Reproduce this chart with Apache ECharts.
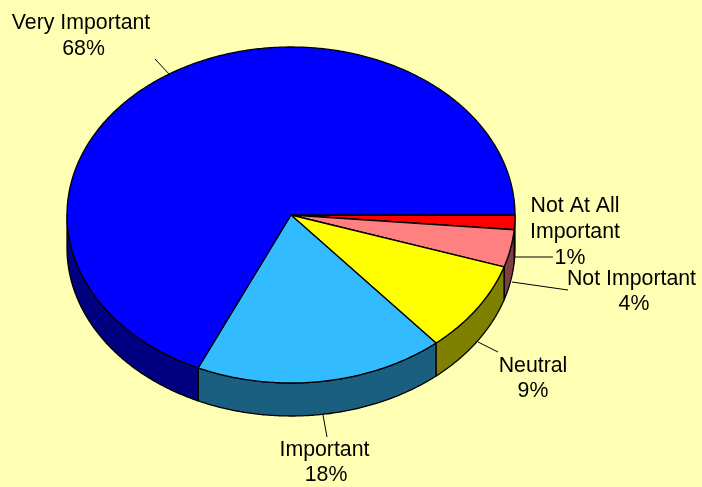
<!DOCTYPE html>
<html>
<head>
<meta charset="utf-8">
<style>html,body{margin:0;padding:0;background:#FFFFB3}#c{width:702px;height:487px}</style>
<script src="https://cdn.jsdelivr.net/npm/echarts@6/dist/echarts.min.js"></script>
</head>
<body>
<div id="c"></div>
<script>
// Clockwise from 3 o'clock, as drawn.
var categories = ['Not At All\nImportant', 'Not Important', 'Neutral', 'Important', 'Very Important'];
var shownPercents = ['1%', '4%', '9%', '18%', '68%'];
var values = [1.4, 3.6, 8.8, 18.0, 68.2];

var topColors = ['#FF0000', '#FF8080', '#FFFF00', '#33BBFF', '#0000FF'];
var sideColors = ['#800000', '#804040', '#808000', '#1A5F80', '#000080'];

// Layout only
var CX = 291, CY = 215, RX = 224, RY = 168, DEPTH = 33;
var leaderLines = [
  [[515, 257], [553, 257]],
  [[512, 282], [568, 290]],
  [[478, 342], [498, 352]],
  [[323, 415], [327, 437]],
  [[170, 75], [155, 59]]
];
var labelLines = [
  [[575, 206], [575, 232], [570, 258]],
  [[631.5, 279], [634, 304]],
  [[533, 366], [533, 391]],
  [[324.5, 450], [326, 475]],
  [[81, 23], [83.5, 49]]
];

var total = values.reduce(function (a, b) { return a + b; }, 0);
var starts = [];
values.reduce(function (acc, v, i) { starts[i] = acc; return acc + v; }, 0);

function pt(deg, dy) {
  var r = deg * Math.PI / 180;
  return [CX + RX * Math.cos(r), CY + RY * Math.sin(r) + (dy || 0)];
}
function arc(a0, a1, dy) {
  var pts = [], n = Math.max(2, Math.ceil(Math.abs(a1 - a0) * 2));
  for (var i = 0; i <= n; i++) pts.push(pt(a0 + (a1 - a0) * i / n, dy));
  return pts;
}
function angles(i, value) {
  var a0 = starts[i] / total * 360;
  return [a0, a0 + value / total * 360];
}
var edge = { stroke: '#000', lineWidth: 1.3, lineJoin: 'round' };

function renderSide(params, api) {
  var i = params.dataIndex, a = angles(i, api.value(0));
  var a0 = Math.max(a[0], 0), a1 = Math.min(a[1], 180);
  if (a1 <= a0) return null;
  var pts = arc(a0, a1, 0).concat(arc(a1, a0, DEPTH));
  return { type: 'polygon', shape: { points: pts },
    style: Object.assign({ fill: sideColors[i] }, edge) };
}
function renderTop(params, api) {
  var i = params.dataIndex, a = angles(i, api.value(0));
  var pts = [[CX, CY]].concat(arc(a[0], a[1], 0));
  return { type: 'polygon', shape: { points: pts },
    style: Object.assign({ fill: topColors[i] }, edge) };
}
function renderLabel(params) {
  var i = params.dataIndex;
  var lines = categories[i].split('\n').concat([shownPercents[i]]);
  var children = [{ type: 'polyline', shape: { points: leaderLines[i] },
    style: { stroke: '#000', lineWidth: 1, fill: null } }];
  lines.forEach(function (t, k) {
    children.push({ type: 'text', style: {
      text: t, x: labelLines[i][k][0], y: labelLines[i][k][1],
      align: 'center', verticalAlign: 'middle',
      fill: '#000', font: '21.3px "Liberation Sans", Arial, sans-serif'
    } });
  });
  return { type: 'group', children: children };
}

var data = values.map(function (v, i) { return { name: categories[i], value: [v] }; });
var chart = echarts.init(document.getElementById('c'), null, { renderer: 'canvas' });
chart.setOption({
  animation: false,
  backgroundColor: '#FFFFB3',
  series: [
    { type: 'custom', coordinateSystem: 'none', renderItem: renderSide, data: data, z: 1, silent: true },
    { type: 'custom', coordinateSystem: 'none', renderItem: renderTop, data: data, z: 2, silent: true },
    { type: 'custom', coordinateSystem: 'none', renderItem: renderLabel, data: data, z: 3, silent: true }
  ]
});
</script>
</body>
</html>
